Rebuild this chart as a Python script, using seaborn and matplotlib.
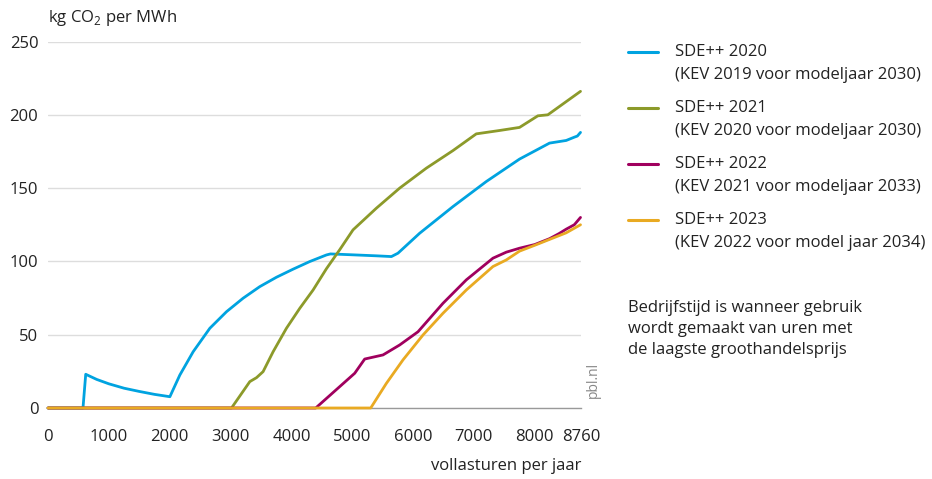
import numpy as np
import pandas as pd
import seaborn as sns
import matplotlib.pyplot as plt
from matplotlib.lines import Line2D

# data
uren_2020 = [0, 575, 620, 800, 1000, 1250, 1500, 1750, 2003, 2167, 2386, 2660, 2934, 3207, 3481,
             3755, 4028, 4302, 4576, 4642, 5000, 5400, 5644, 5752, 6108, 6656, 7204, 7750,
             8243, 8517, 8654, 8700, 8752]
co2_2020 = [0, 0, 23, 19.5, 16.5, 13.5, 11.3, 9.3, 7.7, 22.5, 38.4, 54.4, 65.7, 74.9, 82.8,
            89.2, 94.7, 99.9, 104.4, 105.1, 104.5, 103.8, 103.3, 105.6, 119.2, 137.4, 154.5, 169.8,
            180.7, 182.5, 184.8, 185.5, 188]

uren_2021 = [0, 3016, 3317, 3427, 3535, 3700, 3919, 4138, 4357, 4576, 4795, 5013, 5397, 5780,
             6218, 6656, 7039, 7422, 7750, 8051, 8215, 8752]
co2_2021 = [0, 0, 18, 20.7, 24.8, 38.4, 54.4, 68, 80.5, 95, 108, 121.5, 136.3, 150,
            163.6, 175.6, 187, 189.3, 191.4, 199.3, 200, 216]

uren_2022 = [0, 4400, 5041, 5205, 5506, 5780, 6081, 6491, 6875, 7313, 7532, 7750, 8000, 8243,
             8400, 8517, 8650, 8752]
co2_2022 = [0, 0, 23.7, 33.4, 36.2, 43, 52, 71.4, 87.4, 102.2, 106.3, 109, 111.5, 115.5,
            119, 122, 125, 130]

uren_2023 = [0, 5304, 5561, 5834, 6163, 6491, 6875, 7313, 7532, 7750, 8000, 8243, 8517, 8752]
co2_2023 = [0, 0, 16.8, 32.8, 49.8, 64.6, 80.5, 96.5, 101, 107, 111, 115, 119.5, 125]

namen = ["SDE++ 2020", "SDE++ 2021", "SDE++ 2022", "SDE++ 2023"]
subnamen = ["(KEV 2019 voor modeljaar 2030)", "(KEV 2020 voor modeljaar 2030)",
            "(KEV 2021 voor modeljaar 2033)", "(KEV 2022 voor model jaar 2034)"]
kleuren = ["#00a3e0", "#8c9a2a", "#a0005e", "#e9aa22"]

xticks = [0, 1000, 2000, 3000, 4000, 5000, 6000, 7000, 8000, 8760]
yticks = [0, 50, 100, 150, 200, 250]

delen = []
for naam, x, y in zip(namen, [uren_2020, uren_2021, uren_2022, uren_2023],
                      [co2_2020, co2_2021, co2_2022, co2_2023]):
    delen.append(pd.DataFrame({"uren": x, "co2": y, "reeks": naam}))
df = pd.concat(delen, ignore_index=True)

sns.set_style("white")
plt.rcParams['font.family'] = ['Open Sans', 'DejaVu Sans']
plt.rcParams['mathtext.fontset'] = 'custom'
plt.rcParams['mathtext.rm'] = 'Open Sans'

fig = plt.figure(figsize=(9.32, 4.79), dpi=100)
ax = fig.add_axes([48/932, 1-408/479, (581-48)/932, (408-41.5)/479])

sns.lineplot(data=df, x="uren", y="co2", hue="reeks", palette=kleuren,
             estimator=None, sort=False, linewidth=2.0, legend=False, ax=ax)
for ln in ax.lines:
    ln.set_clip_on(False)
    ln.set_solid_joinstyle("round")

ax.set_xlim(0, 8760)
ax.set_ylim(0, 250)
ax.set_xticks(xticks)
ax.set_xticklabels([str(t) for t in xticks])
ax.set_xticks(np.arange(500, 8760, 1000), minor=True)
ax.set_yticks(yticks)
ax.tick_params(axis="x", which="major", length=9, width=1, color="#999999",
               labelsize=12, labelcolor="#222222", pad=6)
ax.tick_params(axis="x", which="minor", length=5, width=1, color="#999999")
ax.tick_params(axis="y", length=0, labelsize=12, labelcolor="#222222", pad=7)
ax.grid(axis="y", color="#dddddd", linewidth=1)
ax.set_axisbelow(True)
for s in ["top", "right", "left"]:
    ax.spines[s].set_visible(False)
ax.spines["bottom"].set_color("#999999")
ax.spines["bottom"].set_linewidth(1)
ax.spines["bottom"].set_zorder(0)
ax.set_xlabel("")
ax.set_ylabel("")

fig.text(48/932, 1-18/479, "kg CO$_\\mathrm{2}$ per MWh", fontsize=12,
         color="#222222", ha="left", va="center")
fig.text(581/932, 1-466/479, "vollasturen per jaar", fontsize=12,
         color="#222222", ha="right", va="center")
fig.text(593/932, 1-380/479, "pbl.nl", fontsize=10, color="#888888",
         rotation=90, ha="center", va="center")

# legenda
y0 = 52
for i in range(4):
    yy = y0 + i * 56
    fig.add_artist(Line2D([628/932, 658/932], [1-yy/479, 1-yy/479],
                          color=kleuren[i], linewidth=2.2))
    fig.text(675/932, 1-yy/479, namen[i], fontsize=12, color="#222222",
             ha="left", va="center")
    fig.text(675/932, 1-(yy+23)/479, subnamen[i], fontsize=12,
             color="#222222", ha="left", va="center")

fig.text(628/932, 1-329/479,
         "Bedrijfstijd is wanneer gebruik\nwordt gemaakt van uren met\nde laagste groothandelsprijs",
         fontsize=12, color="#222222", ha="left", va="center", linespacing=1.45)

fig.savefig("out.png", dpi=100)
